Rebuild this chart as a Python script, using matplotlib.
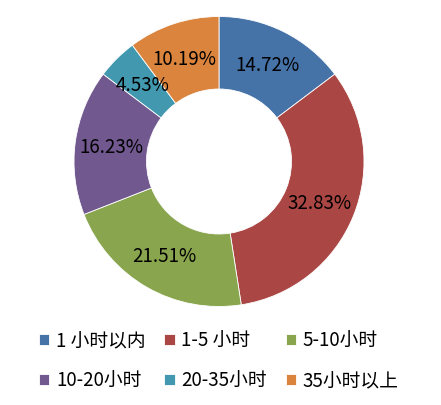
import matplotlib.pyplot as plt

plt.rcParams['font.family'] = ['Noto Sans CJK SC', 'DejaVu Sans']

categories = ['1 小时以内', '1-5 小时', '5-10小时', '10-20小时', '20-35小时', '35小时以上']
values = [14.72, 32.83, 21.51, 16.23, 4.53, 10.19]
colors = ['#4572A7', '#AA4643', '#89A54E', '#71588F', '#4198AF', '#DB843D']

fig = plt.figure(figsize=(4.41, 4.06), dpi=100)
# square axes, radius 1 -> ~145 px, centre at (219, 162) px
ax = fig.add_axes([74 / 441, 98.5 / 406, 290 / 441, 290 / 406])

wedges, texts, autotexts = ax.pie(
    values, colors=colors, startangle=90, counterclock=False,
    radius=1.0, autopct='%.2f%%', pctdistance=0.75,
    wedgeprops=dict(width=0.5, edgecolor='white', linewidth=0.6),
    textprops=dict(fontsize=13.5, color='black'))

for t, v in zip(autotexts, values):
    t.set_text('%.2f%%' % v)

ax.set_xlim(-1, 1)
ax.set_ylim(-1, 1)
ax.set_aspect('equal')
ax.axis('off')

# legend fills column by column, so reorder to read row by row
order = [0, 3, 1, 4, 2, 5]
fig.legend([wedges[i] for i in order], [categories[i] for i in order],
           ncol=3, loc='center', bbox_to_anchor=(0.496, 0.109),
           frameon=False, fontsize=13.5, handlelength=0.55, handleheight=0.55,
           handletextpad=0.35, columnspacing=1.0, labelspacing=1.0)

fig.savefig('out.png', dpi=100)
